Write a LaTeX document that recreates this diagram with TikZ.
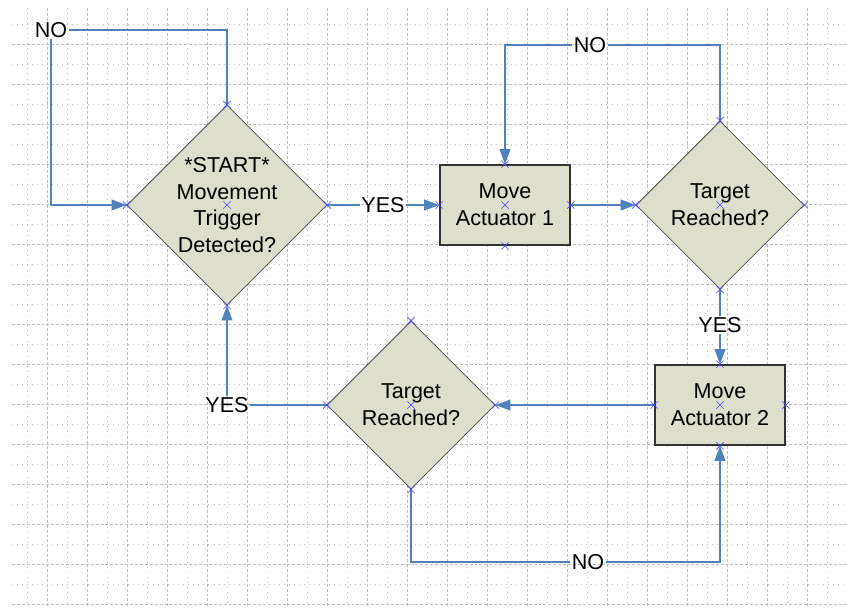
\documentclass[tikz,border=0pt]{standalone}
\usepackage{fontspec}
\setmainfont{Liberation Sans}
\usetikzlibrary{arrows.meta}
\usetikzlibrary{shapes.geometric, shapes.misc}
\definecolor{linienblau}{RGB}{79,129,189}
\definecolor{kreuzblau}{RGB}{70,70,255}
\definecolor{formgrau}{RGB}{221,223,204}
\definecolor{rastergrau}{RGB}{190,190,190}
\newcommand{\schrift}{\fontsize{18.4pt}{22.8pt}\selectfont}

\begin{document}
\begin{tikzpicture}[x=0.03cm, y=-0.03cm, % 1 Einheit = 1 Pixel
  raute/.style={diamond, draw=black!70, fill=formgrau, line width=0.7pt, inner sep=0pt},
  kasten/.style={rectangle, draw=black!80, fill=formgrau, line width=1.4pt, minimum width=3.9cm, minimum height=2.4cm, align=center, font=\schrift},
  innen/.style={align=center, font=\schrift},
  beschriftung/.style={font=\schrift, inner sep=1pt},
  verbinder/.style={draw=linienblau, line width=1.5pt},
  pfeil/.style={verbinder, -{Triangle[length=0.45cm, width=0.32cm]}},
  kreuz/.style={cross out, draw=kreuzblau, line width=0.5pt, minimum size=0.2cm, inner sep=0pt},
  rasterstrich/.style={draw=rastergrau, line width=0.6pt, dash pattern=on 2.5pt off 1.7pt},
  rasterpunkt/.style={draw=rastergrau, line width=0.6pt, dash pattern=on 0.8pt off 3.5pt}]

% Hintergrund und Raster
\fill[white] (0,0) rectangle (847,607);
\useasboundingbox (0,0) rectangle (847,607);
\foreach \y in {44,84,...,604} \draw[rasterstrich] (12,\y) -- (847,\y);
\foreach \y in {24,64,...,584} \draw[rasterpunkt] (12,\y) -- (847,\y);
\foreach \x in {47,87,...,847} \draw[rasterstrich] (\x,8) -- (\x,607);
\foreach \x in {27,67,...,827} \draw[rasterpunkt] (\x,8) -- (\x,607);

% Formen
\node[raute, minimum width=6cm, minimum height=6cm,
  label={[innen]center:*START*\\Movement\\Trigger\\Detected?}] (d1) at (227,205) {};
\node[kasten] (b1) at (505,205) {Move\\Actuator 1};
\node[raute, minimum width=5.04cm, minimum height=5.04cm,
  label={[innen]center:Target\\Reached?}] (d2) at (720,205) {};
\node[kasten] (b2) at (720,405) {Move\\Actuator 2};
\node[raute, minimum width=5.04cm, minimum height=5.04cm,
  label={[innen]center:Target\\Reached?}] (d3) at (411,405) {};

% Beschriftungen
\node[beschriftung] (nein1) at (51,30) {NO};
\node[beschriftung] (ja1) at (383,205) {YES};
\node[beschriftung] (nein2) at (590,45) {NO};
\node[beschriftung] (ja2) at (720,325) {YES};
\node[beschriftung] (nein3) at (588,562) {NO};
\node[beschriftung] (ja3) at (227,405) {YES};

% Verbinder
\draw[verbinder] (d1.north) |- (nein1.east);
\draw[pfeil] (nein1.south) |- (d1.west);
\draw[verbinder] (d1.east) -- (ja1.west);
\draw[pfeil] (ja1.east) -- (b1.west);
\draw[pfeil] (b1.east) -- (d2.west);
\draw[verbinder] (d2.north) |- (nein2.east);
\draw[pfeil] (nein2.west) -| (b1.north);
\draw[verbinder] (d2.south) -- (ja2.north);
\draw[pfeil] (ja2.south) -- (b2.north);
\draw[pfeil] (b2.west) -- (d3.east);
\draw[verbinder] (d3.south) |- (nein3.west);
\draw[pfeil] (nein3.east) -| (b2.south);
\draw[verbinder] (d3.west) -- (ja3.east);
\draw[pfeil] (ja3.north) -- (d1.south);

% Verbindungspunkte
\foreach \n in {d1,b1,d2,b2,d3}
  \foreach \a in {north,south,east,west,center}
    \node[kreuz] at (\n.\a) {};

\end{tikzpicture}
\end{document}
